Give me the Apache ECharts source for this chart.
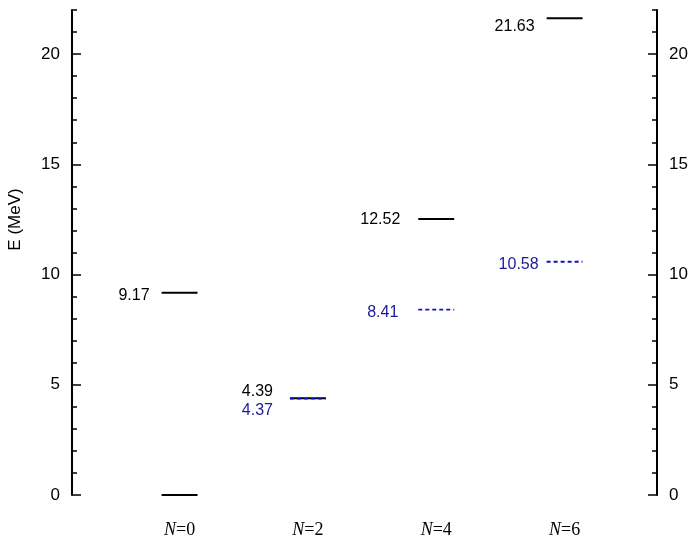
<!DOCTYPE html>
<html>
<head>
<meta charset="utf-8">
<script src="https://cdn.jsdelivr.net/npm/echarts@6/dist/echarts.min.js"></script>
<style>html,body{margin:0;padding:0;background:#fff}#c{width:690px;height:542px}</style>
</head>
<body>
<div id="c"></div>
<script>
// ---- data ----
const categories = ['0', '2', '4', '6'];          // N values (labels "N=...")
const expCat = [0, 0, 1, 2, 3];                   // category index of each experimental (solid) level
const expE = [0, 9.17, 4.39, 12.52, 21.63];       // energies, MeV
const expShowLabel = [false, true, true, true, true];
const calcCat = [1, 2, 3];                        // category index of each calculated (dashed) level
const calcE = [4.37, 8.41, 10.58];
const majorTicks = [0, 5, 10, 15, 20];
const minorTicks = [1, 2, 3, 4, 6, 7, 8, 9, 11, 12, 13, 14, 16, 17, 18, 19, 21, 22];

// ---- layout tweaks (label placement, not data) ----
const expLabelDx = [12, 12, 17, 18, 12];
const expLabelDy = [0, 3, -7, 1, 8];
const calcLabelDx = [17, 20, 8];
const calcLabelDy = [12, 3, 3];

const chart = echarts.init(document.getElementById('c'));
const HALF = 0.14;

function levelRenderer(color, dashed, dxArr, dyArr, showArr) {
  return function (params, api) {
    const i = params.dataIndex;
    const x = api.value(0), y = api.value(1);
    const p1 = api.coord([x - HALF, y]);
    const p2 = api.coord([x + HALF, y]);
    const children = [{
      type: 'line',
      shape: { x1: p1[0], y1: p1[1], x2: p2[0], y2: p2[1] },
      style: { stroke: color, lineWidth: dashed ? 1.8 : 2, lineDash: dashed ? [4, 3] : null }
    }];
    if (!showArr || showArr[i]) {
      children.push({
        type: 'text',
        x: p1[0] - dxArr[i], y: p1[1] + dyArr[i],
        style: {
          text: y.toFixed(2), fill: dashed ? '#1a1a9a' : '#000',
          font: '16px "Liberation Sans", Arial, sans-serif',
          align: 'right', verticalAlign: 'middle'
        }
      });
    }
    return { type: 'group', children: children };
  };
}

const axisFont = { fontFamily: '"Liberation Sans", Arial, sans-serif', fontSize: 17, color: '#000' };

function yAxisDef(pos, withLabels, ticks, len) {
  return {
    type: 'value', position: pos, min: 0, max: 22,
    name: (pos === 'left' && withLabels) ? 'E (MeV)' : '',
    nameLocation: 'middle', nameRotate: 90, nameGap: 48,
    nameTextStyle: { fontFamily: '"Liberation Sans", Arial, sans-serif', fontSize: 17, color: '#000', padding: [0, 0, 0, 66] },
    axisLine: { show: withLabels, onZero: false, lineStyle: { color: '#000', width: 2 } },
    axisTick: { show: true, inside: true, length: len, customValues: ticks, lineStyle: { color: '#000', width: 1.5 } },
    axisLabel: withLabels ? Object.assign({ show: true, customValues: majorTicks, margin: 12 }, axisFont) : { show: false },
    splitLine: { show: false }
  };
}

chart.setOption({
  animation: false,
  backgroundColor: '#fff',
  grid: { left: 72, right: 33, top: 10, bottom: 47, containLabel: false, outerBoundsMode: 'none' },
  xAxis: {
    type: 'value', min: -0.838, max: 3.72,
    axisLine: { show: false, onZero: false }, axisTick: { show: false }, splitLine: { show: false },
    axisLabel: {
      customValues: [0, 1, 2, 3], margin: 26,
      formatter: function (v) { return '{n|N}{r|=' + categories[Math.round(v)] + '}'; },
      rich: {
        n: { fontFamily: '"Liberation Serif", "Times New Roman", serif', fontStyle: 'italic', fontSize: 18, color: '#000' },
        r: { fontFamily: '"Liberation Serif", "Times New Roman", serif', fontSize: 18, color: '#000' }
      }
    }
  },
  yAxis: [
    yAxisDef('left', true, majorTicks, 9),
    yAxisDef('right', true, majorTicks, 9),
    yAxisDef('left', false, minorTicks, 5),
    yAxisDef('right', false, minorTicks, 5)
  ],
  series: [
    {
      type: 'custom', yAxisIndex: 0,
      renderItem: levelRenderer('#000', false, expLabelDx, expLabelDy, expShowLabel),
      data: expCat.map((c, i) => [c, expE[i]])
    },
    {
      type: 'custom', yAxisIndex: 0,
      renderItem: levelRenderer('#1010c0', true, calcLabelDx, calcLabelDy, null),
      data: calcCat.map((c, i) => [c, calcE[i]])
    }
  ]
});
</script>
</body>
</html>
